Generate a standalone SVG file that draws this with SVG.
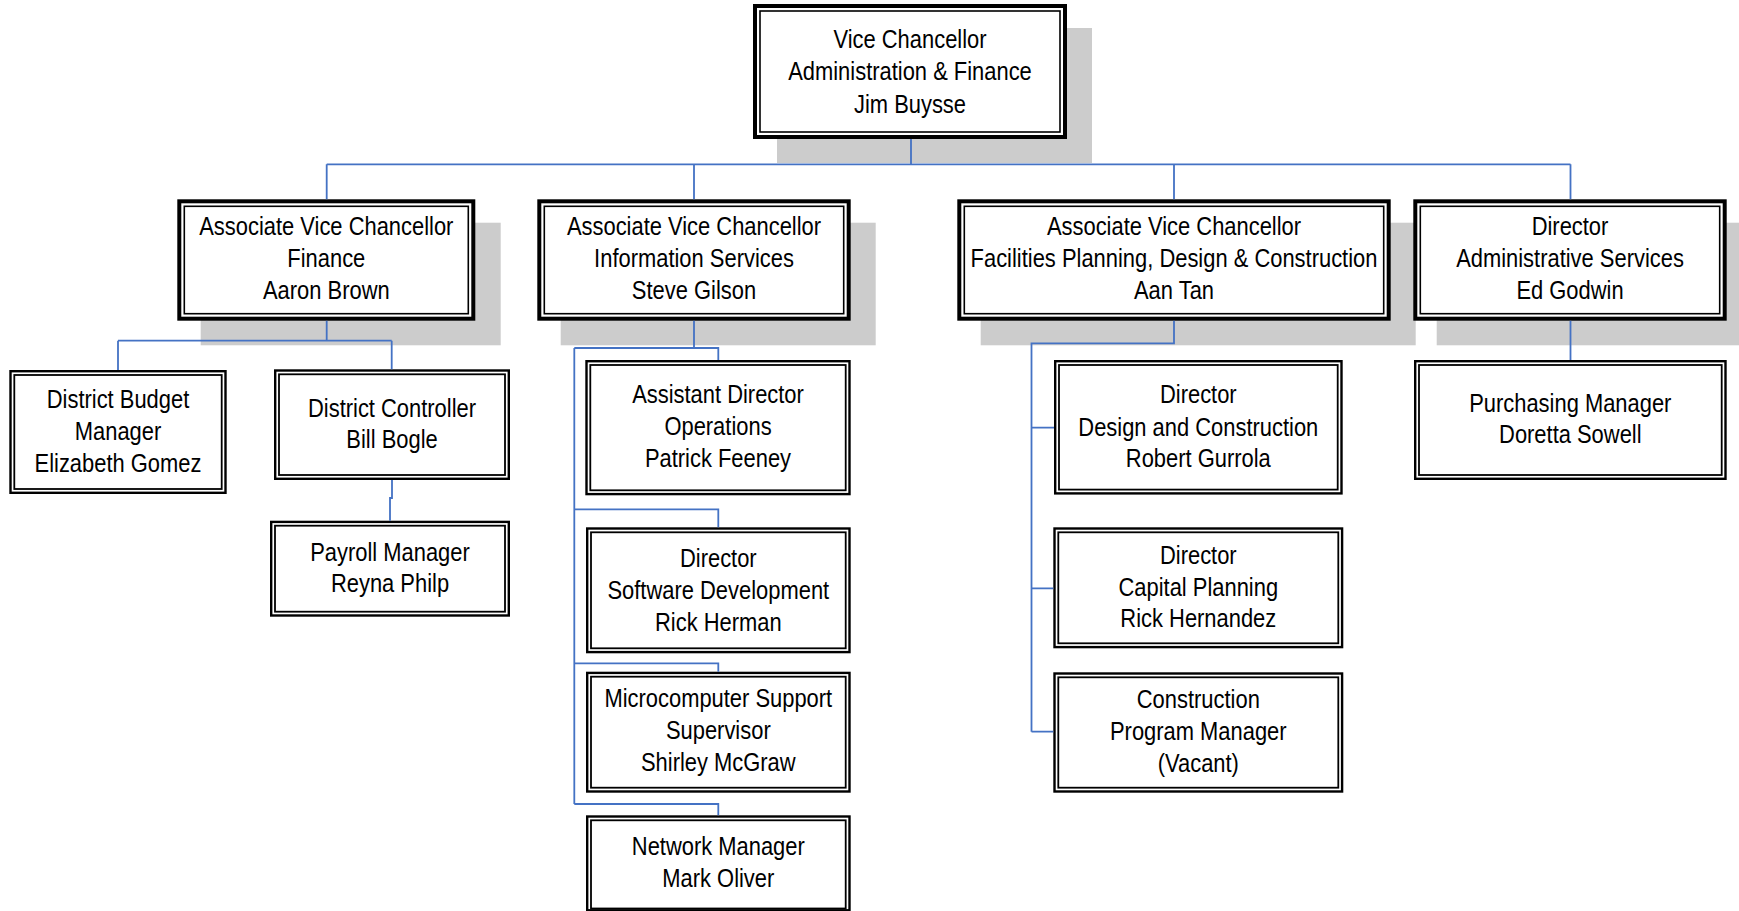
<svg xmlns="http://www.w3.org/2000/svg" width="1739" height="911" viewBox="0 0 1739 911">
<style>
.bg{fill:#ffffff}
.sh{fill:#cccccc;stroke:none}
.o1{fill:#ffffff;stroke:#000;stroke-width:4}
.i1{fill:none;stroke:#000;stroke-width:1.6}
.o2{fill:#ffffff;stroke:#000;stroke-width:2.4}
.i2{fill:none;stroke:#000;stroke-width:1.8}
.t{font-family:"Liberation Sans",Arial,sans-serif;font-size:25.5px;fill:#000;text-anchor:middle}
.c{fill:none;stroke:#4472C4;stroke-width:1.8}
</style>
<rect class="bg" x="0" y="0" width="1739" height="911"/>

<g id="vice-chancellor">
<rect class="sh" x="777" y="28" width="315" height="135"/>
<rect class="o1" x="755" y="6" width="310" height="131"/>
<rect class="i1" x="760" y="11" width="300" height="121"/>
<text class="t" transform="translate(910 0) scale(0.86 1)"><tspan x="0" y="47.7">Vice Chancellor</tspan><tspan x="0" y="80.5">Administration &amp; Finance</tspan><tspan x="0" y="113.3">Jim Buysse</tspan></text>
</g>

<g id="avc-finance">
<rect class="sh" x="200.7" y="222.7" width="300" height="122.6"/>
<rect class="o1" x="179.3" y="201.3" width="294" height="117.4"/>
<rect class="i1" x="184.3" y="206.3" width="284" height="107.4"/>
<text class="t" transform="translate(326.3 0) scale(0.86 1)"><tspan x="0" y="235">Associate Vice Chancellor</tspan><tspan x="0" y="267">Finance</tspan><tspan x="0" y="299.3">Aaron Brown</tspan></text>
</g>

<g id="avc-information-services">
<rect class="sh" x="560.7" y="222.7" width="315" height="122.6"/>
<rect class="o1" x="539.3" y="201.3" width="309.4" height="117.4"/>
<rect class="i1" x="544.3" y="206.3" width="299.4" height="107.4"/>
<text class="t" transform="translate(694 0) scale(0.86 1)"><tspan x="0" y="235">Associate Vice Chancellor</tspan><tspan x="0" y="267">Information Services</tspan><tspan x="0" y="299.3">Steve Gilson</tspan></text>
</g>

<g id="avc-facilities">
<rect class="sh" x="980.7" y="222.7" width="435" height="122.6"/>
<rect class="o1" x="959.3" y="201.3" width="429.4" height="117.4"/>
<rect class="i1" x="964.3" y="206.3" width="419.4" height="107.4"/>
<text class="t" transform="translate(1174 0) scale(0.86 1)"><tspan x="0" y="235">Associate Vice Chancellor</tspan><tspan x="0" y="267">Facilities Planning, Design &amp; Construction</tspan><tspan x="0" y="299.3">Aan Tan</tspan></text>
</g>

<g id="director-admin-services">
<rect class="sh" x="1436.7" y="222.7" width="310" height="122.6"/>
<rect class="o1" x="1415.3" y="201.3" width="309.4" height="117.4"/>
<rect class="i1" x="1420.3" y="206.3" width="299.4" height="107.4"/>
<text class="t" transform="translate(1570 0) scale(0.86 1)"><tspan x="0" y="235">Director</tspan><tspan x="0" y="267">Administrative Services</tspan><tspan x="0" y="299">Ed Godwin</tspan></text>
</g>

<g id="district-budget">
<rect class="o2" x="10.5" y="371.2" width="215" height="121.6"/>
<rect class="i2" x="14.3" y="375" width="207.4" height="114"/>
<text class="t" transform="translate(118 0) scale(0.86 1)"><tspan x="0" y="407.7">District Budget</tspan><tspan x="0" y="440">Manager</tspan><tspan x="0" y="471.7">Elizabeth Gomez</tspan></text>
</g>

<g id="district-controller">
<rect class="o2" x="275.2" y="370.5" width="233.6" height="108.3"/>
<rect class="i2" x="279" y="374.3" width="226" height="100.7"/>
<text class="t" transform="translate(392 0) scale(0.86 1)"><tspan x="0" y="416.7">District Controller</tspan><tspan x="0" y="448.3">Bill Bogle</tspan></text>
</g>

<g id="payroll-manager">
<rect class="o2" x="271.2" y="521.9" width="237.6" height="93.6"/>
<rect class="i2" x="275" y="525.7" width="230" height="86"/>
<text class="t" transform="translate(390 0) scale(0.86 1)"><tspan x="0" y="560.7">Payroll Manager</tspan><tspan x="0" y="591.7">Reyna Philp</tspan></text>
</g>

<g id="assistant-director-operations">
<rect class="o2" x="586.5" y="361.2" width="263" height="132.9"/>
<rect class="i2" x="590.3" y="365" width="255.4" height="125.3"/>
<text class="t" transform="translate(718 0) scale(0.86 1)"><tspan x="0" y="403.3">Assistant Director</tspan><tspan x="0" y="435">Operations</tspan><tspan x="0" y="467.3">Patrick Feeney</tspan></text>
</g>

<g id="director-software-development">
<rect class="o2" x="587.2" y="528.5" width="262.3" height="123.6"/>
<rect class="i2" x="591" y="532.3" width="254.7" height="116"/>
<text class="t" transform="translate(718.3 0) scale(0.86 1)"><tspan x="0" y="566.7">Director</tspan><tspan x="0" y="599">Software Development</tspan><tspan x="0" y="630.7">Rick Herman</tspan></text>
</g>

<g id="microcomputer-support">
<rect class="o2" x="587.2" y="672.9" width="262.3" height="118.6"/>
<rect class="i2" x="591" y="676.7" width="254.7" height="111"/>
<text class="t" transform="translate(718.3 0) scale(0.86 1)"><tspan x="0" y="707.3">Microcomputer Support</tspan><tspan x="0" y="739">Supervisor</tspan><tspan x="0" y="770.7">Shirley McGraw</tspan></text>
</g>

<g id="network-manager">
<rect class="o2" x="587.2" y="816.5" width="262.3" height="93.8"/>
<rect class="i2" x="591" y="820.3" width="254.7" height="88.2"/>
<text class="t" transform="translate(718.3 0) scale(0.86 1)"><tspan x="0" y="855">Network Manager</tspan><tspan x="0" y="887.3">Mark Oliver</tspan></text>
</g>

<g id="director-design-construction">
<rect class="o2" x="1055.2" y="361.2" width="286.3" height="132.2"/>
<rect class="i2" x="1059" y="365" width="278.7" height="124.6"/>
<text class="t" transform="translate(1198.3 0) scale(0.86 1)"><tspan x="0" y="403.3">Director</tspan><tspan x="0" y="435.7">Design and Construction</tspan><tspan x="0" y="466.7">Robert Gurrola</tspan></text>
</g>

<g id="director-capital-planning">
<rect class="o2" x="1054.5" y="528.5" width="287.6" height="118.6"/>
<rect class="i2" x="1058.3" y="532.3" width="280" height="111"/>
<text class="t" transform="translate(1198.3 0) scale(0.86 1)"><tspan x="0" y="564">Director</tspan><tspan x="0" y="596">Capital Planning</tspan><tspan x="0" y="627.3">Rick Hernandez</tspan></text>
</g>

<g id="construction-program-manager">
<rect class="o2" x="1054.5" y="673.5" width="287.6" height="118"/>
<rect class="i2" x="1058.3" y="677.3" width="280" height="110.4"/>
<text class="t" transform="translate(1198.3 0) scale(0.86 1)"><tspan x="0" y="708.3">Construction</tspan><tspan x="0" y="740">Program Manager</tspan><tspan x="0" y="771.7">(Vacant)</tspan></text>
</g>

<g id="purchasing-manager">
<rect class="o2" x="1415.2" y="361.2" width="310.3" height="117.6"/>
<rect class="i2" x="1419" y="365" width="302.7" height="110"/>
<text class="t" transform="translate(1570.3 0) scale(0.86 1)"><tspan x="0" y="411.7">Purchasing Manager</tspan><tspan x="0" y="443.3">Doretta Sowell</tspan></text>
</g>

<g id="connectors">
<path class="c" d="M911 139 V164.3 M326.7 164.3 H1570.5 M326.7 164.3 V199.3 M694 164.3 V199.3 M1174 164.3 V199.3 M1570.5 164.3 V199.3"/>
<path class="c" d="M326.7 320.7 V340.7 M118 340.7 H391.7 M118 340.7 V370 M391.7 340.7 V369.3"/>
<path class="c" d="M392 480 V498 H390 V520.7"/>
<path class="c" d="M694 320.7 V348 M574.3 348 H718.3 V360 M574.3 348 V804 M574.3 509.3 H718.3 V527.3 M574.3 663.3 H718.3 V671.7 M574.3 804 H718.3 V815.3"/>
<path class="c" d="M1174 320.7 V343.3 H1031.5 V731.7 M1031.5 427.7 H1054 M1031.5 588.3 H1053.3 M1031.5 731.7 H1053.3"/>
<path class="c" d="M1570.5 320.7 V360"/>
</g>
</svg>
